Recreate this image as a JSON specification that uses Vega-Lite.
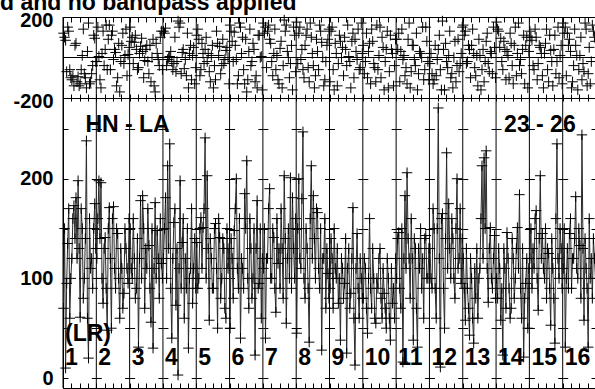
{
  "$schema": "https://vega.github.io/schema/vega-lite/v6.json",
  "autosize": {"type": "none"},
  "padding": {"left": 63, "top": 17, "right": 532, "bottom": 372},
  "background": "white",
  "bounds": "flush",
  "spacing": 0,
  "config": {
    "font": "Liberation Sans",
    "view": {"stroke": "black", "strokeWidth": 1},
    "axis": {"labelFont": "Liberation Sans", "labelFontSize": 20, "labelFontWeight": "bold", "labelColor": "black", "title": null, "domain": false, "grid": false}
  },
  "title": {"text": "d and no bandpass applied", "anchor": "start", "frame": "group", "dx": -63, "dy": 5, "offset": 0, "fontSize": 23, "fontWeight": "bold", "font": "Liberation Sans", "color": "black"},
  "datasets": {
    "segs": [
      {"lab": "1", "b": -0.5}, {"lab": "2", "b": 31.5}, {"lab": "3", "b": 63.5}, {"lab": "4", "b": 95.5},
      {"lab": "5", "b": 127.5}, {"lab": "6", "b": 159.5}, {"lab": "7", "b": 191.5}, {"lab": "8", "b": 223.5},
      {"lab": "9", "b": 255.5}, {"lab": "10", "b": 287.5}, {"lab": "11", "b": 319.5}, {"lab": "12", "b": 351.5},
      {"lab": "13", "b": 383.5}, {"lab": "14", "b": 415.5}, {"lab": "15", "b": 447.5}, {"lab": "16", "b": 479.5}
    ],
    "vis": [
      {"ch":0,"amp":70,"ph":120},{"ch":1,"amp":150,"ph":100},{"ch":2,"amp":10,"ph":85},{"ch":3,"amp":95,"ph":-70},{"ch":4,"amp":135,"ph":150},{"ch":5,"amp":170,"ph":130},{"ch":6,"amp":60,"ph":-60},{"ch":7,"amp":100,"ph":-100},{"ch":8,"amp":120,"ph":-110},{"ch":9,"amp":160,"ph":-90},{"ch":10,"amp":173,"ph":-140},{"ch":11,"amp":140,"ph":60},{"ch":12,"amp":181,"ph":70},{"ch":13,"amp":120,"ph":-120},{"ch":14,"amp":198,"ph":-95},{"ch":15,"amp":130,"ph":-140},{"ch":16,"amp":61,"ph":-130},{"ch":17,"amp":170,"ph":-60},{"ch":18,"amp":150,"ph":10},{"ch":19,"amp":80,"ph":140},{"ch":20,"amp":100,"ph":-80},{"ch":21,"amp":140,"ph":-100},{"ch":22,"amp":238,"ph":-150},{"ch":23,"amp":60,"ph":30},{"ch":24,"amp":20,"ph":170},{"ch":25,"amp":160,"ph":-130},{"ch":26,"amp":110,"ph":-120},{"ch":27,"amp":120,"ph":-80},{"ch":28,"amp":90,"ph":-40},{"ch":29,"amp":150,"ph":110},{"ch":30,"amp":175,"ph":95},{"ch":31,"amp":130,"ph":-20},
      {"ch":32,"amp":120,"ph":-20},{"ch":33,"amp":160,"ph":150},{"ch":34,"amp":198,"ph":5},{"ch":35,"amp":140,"ph":-110},{"ch":36,"amp":196,"ph":-150},{"ch":37,"amp":100,"ph":20},{"ch":38,"amp":75,"ph":130},{"ch":39,"amp":130,"ph":-40},{"ch":40,"amp":141,"ph":40},{"ch":41,"amp":90,"ph":160},{"ch":42,"amp":48,"ph":-60},{"ch":43,"amp":150,"ph":90},{"ch":44,"amp":171,"ph":160},{"ch":45,"amp":120,"ph":-60},{"ch":46,"amp":50,"ph":110},{"ch":47,"amp":160,"ph":130},{"ch":48,"amp":172,"ph":-10},{"ch":49,"amp":110,"ph":40},{"ch":50,"amp":90,"ph":25},{"ch":51,"amp":150,"ph":-140},{"ch":52,"amp":145,"ph":-100},{"ch":53,"amp":100,"ph":70},{"ch":54,"amp":60,"ph":-170},{"ch":55,"amp":130,"ph":-20},{"ch":56,"amp":110,"ph":60},{"ch":57,"amp":70,"ph":120},{"ch":58,"amp":85,"ph":-30},{"ch":59,"amp":150,"ph":10},{"ch":60,"amp":130,"ph":140},{"ch":61,"amp":110,"ph":-90},{"ch":62,"amp":95,"ph":15},{"ch":63,"amp":160,"ph":50},
      {"ch":64,"amp":150,"ph":150},{"ch":65,"amp":110,"ph":80},{"ch":66,"amp":100,"ph":100},{"ch":67,"amp":160,"ph":-30},{"ch":68,"amp":120,"ph":75},{"ch":69,"amp":80,"ph":110},{"ch":70,"amp":90,"ph":40},{"ch":71,"amp":140,"ph":-60},{"ch":72,"amp":31,"ph":-50},{"ch":73,"amp":120,"ph":20},{"ch":74,"amp":178,"ph":55},{"ch":75,"amp":100,"ph":95},{"ch":76,"amp":183,"ph":30},{"ch":77,"amp":150,"ph":-100},{"ch":78,"amp":70,"ph":-15},{"ch":79,"amp":130,"ph":40},{"ch":80,"amp":110,"ph":60},{"ch":81,"amp":170,"ph":-20},{"ch":82,"amp":133,"ph":-80},{"ch":83,"amp":90,"ph":60},{"ch":84,"amp":56,"ph":-120},{"ch":85,"amp":150,"ph":0},{"ch":86,"amp":30,"ph":90},{"ch":87,"amp":110,"ph":-140},{"ch":88,"amp":176,"ph":-170},{"ch":89,"amp":100,"ph":70},{"ch":90,"amp":148,"ph":20},{"ch":91,"amp":120,"ph":-10},{"ch":92,"amp":80,"ph":-40},{"ch":93,"amp":160,"ph":100},{"ch":94,"amp":115,"ph":130},{"ch":95,"amp":100,"ph":-60},
      {"ch":96,"amp":120,"ph":130},{"ch":97,"amp":150,"ph":120},{"ch":98,"amp":181,"ph":145},{"ch":99,"amp":100,"ph":-40},{"ch":100,"amp":213,"ph":-10},{"ch":101,"amp":130,"ph":0},{"ch":102,"amp":235,"ph":5},{"ch":103,"amp":90,"ph":30},{"ch":104,"amp":40,"ph":-20},{"ch":105,"amp":120,"ph":-60},{"ch":106,"amp":156,"ph":-30},{"ch":107,"amp":170,"ph":100},{"ch":108,"amp":73,"ph":-70},{"ch":109,"amp":130,"ph":-20},{"ch":110,"amp":3,"ph":180},{"ch":111,"amp":110,"ph":150},{"ch":112,"amp":198,"ph":170},{"ch":113,"amp":90,"ph":-80},{"ch":114,"amp":136,"ph":25},{"ch":115,"amp":160,"ph":40},{"ch":116,"amp":60,"ph":-55},{"ch":117,"amp":120,"ph":-10},{"ch":118,"amp":90,"ph":-90},{"ch":119,"amp":150,"ph":120},{"ch":120,"amp":30,"ph":-150},{"ch":121,"amp":100,"ph":20},{"ch":122,"amp":110,"ph":60},{"ch":123,"amp":170,"ph":-110},{"ch":124,"amp":75,"ph":10},{"ch":125,"amp":110,"ph":50},{"ch":126,"amp":140,"ph":-130},{"ch":127,"amp":90,"ph":-50},
      {"ch":128,"amp":136,"ph":110},{"ch":129,"amp":90,"ph":140},{"ch":130,"amp":100,"ph":90},{"ch":131,"amp":150,"ph":-90},{"ch":132,"amp":161,"ph":-60},{"ch":133,"amp":110,"ph":70},{"ch":134,"amp":151,"ph":20},{"ch":135,"amp":170,"ph":-30},{"ch":136,"amp":241,"ph":40},{"ch":137,"amp":100,"ph":100},{"ch":138,"amp":203,"ph":-20},{"ch":139,"amp":130,"ph":20},{"ch":140,"amp":58,"ph":-70},{"ch":141,"amp":140,"ph":-120},{"ch":142,"amp":120,"ph":10},{"ch":143,"amp":90,"ph":60},{"ch":144,"amp":90,"ph":-150},{"ch":145,"amp":150,"ph":-40},{"ch":146,"amp":155,"ph":-110},{"ch":147,"amp":110,"ph":130},{"ch":148,"amp":50,"ph":70},{"ch":149,"amp":160,"ph":10},{"ch":150,"amp":141,"ph":55},{"ch":151,"amp":80,"ph":-80},{"ch":152,"amp":100,"ph":-40},{"ch":153,"amp":140,"ph":90},{"ch":154,"amp":130,"ph":-30},{"ch":155,"amp":70,"ph":-10},{"ch":156,"amp":60,"ph":35},{"ch":157,"amp":150,"ph":50},{"ch":158,"amp":110,"ph":0},{"ch":159,"amp":130,"ph":-130},
      {"ch":160,"amp":50,"ph":160},{"ch":161,"amp":140,"ph":130},{"ch":162,"amp":120,"ph":80},{"ch":163,"amp":80,"ph":-20},{"ch":164,"amp":148,"ph":125},{"ch":165,"amp":170,"ph":60},{"ch":166,"amp":200,"ph":-10},{"ch":167,"amp":110,"ph":-130},{"ch":168,"amp":90,"ph":-90},{"ch":169,"amp":160,"ph":170},{"ch":170,"amp":40,"ph":150},{"ch":171,"amp":120,"ph":20},{"ch":172,"amp":110,"ph":100},{"ch":173,"amp":90,"ph":-60},{"ch":174,"amp":185,"ph":-130},{"ch":175,"amp":150,"ph":90},{"ch":176,"amp":218,"ph":-170},{"ch":177,"amp":100,"ph":-110},{"ch":178,"amp":70,"ph":30},{"ch":179,"amp":160,"ph":140},{"ch":180,"amp":130,"ph":-40},{"ch":181,"amp":80,"ph":-20},{"ch":182,"amp":100,"ph":70},{"ch":183,"amp":150,"ph":40},{"ch":184,"amp":23,"ph":-120},{"ch":185,"amp":130,"ph":-90},{"ch":186,"amp":178,"ph":-150},{"ch":187,"amp":90,"ph":110},{"ch":188,"amp":95,"ph":110},{"ch":189,"amp":150,"ph":0},{"ch":190,"amp":60,"ph":5},{"ch":191,"amp":120,"ph":-160},
      {"ch":192,"amp":110,"ph":170},{"ch":193,"amp":150,"ph":120},{"ch":194,"amp":40,"ph":150},{"ch":195,"amp":120,"ph":-50},{"ch":196,"amp":120,"ph":130},{"ch":197,"amp":170,"ph":160},{"ch":198,"amp":190,"ph":90},{"ch":199,"amp":100,"ph":70},{"ch":200,"amp":100,"ph":-20},{"ch":201,"amp":150,"ph":-90},{"ch":202,"amp":141,"ph":20},{"ch":203,"amp":90,"ph":140},{"ch":204,"amp":66,"ph":-60},{"ch":205,"amp":160,"ph":10},{"ch":206,"amp":115,"ph":-110},{"ch":207,"amp":130,"ph":-130},{"ch":208,"amp":90,"ph":45},{"ch":209,"amp":170,"ph":80},{"ch":210,"amp":130,"ph":-150},{"ch":211,"amp":80,"ph":-40},{"ch":212,"amp":203,"ph":185},{"ch":213,"amp":140,"ph":130},{"ch":214,"amp":55,"ph":160},{"ch":215,"amp":120,"ph":30},{"ch":216,"amp":150,"ph":0},{"ch":217,"amp":100,"ph":-100},{"ch":218,"amp":201,"ph":-30},{"ch":219,"amp":90,"ph":60},{"ch":220,"amp":181,"ph":-160},{"ch":221,"amp":130,"ph":150},{"ch":222,"amp":100,"ph":110},{"ch":223,"amp":160,"ph":-70},
      {"ch":224,"amp":45,"ph":175},{"ch":225,"amp":150,"ph":-30},{"ch":226,"amp":200,"ph":120},{"ch":227,"amp":120,"ph":150},{"ch":228,"amp":110,"ph":-10},{"ch":229,"amp":180,"ph":40},{"ch":230,"amp":247,"ph":-60},{"ch":231,"amp":100,"ph":-100},{"ch":232,"amp":80,"ph":60},{"ch":233,"amp":150,"ph":110},{"ch":234,"amp":130,"ph":140},{"ch":235,"amp":90,"ph":-50},{"ch":236,"amp":36,"ph":-120},{"ch":237,"amp":160,"ph":170},{"ch":238,"amp":213,"ph":100},{"ch":239,"amp":120,"ph":20},{"ch":240,"amp":183,"ph":-40},{"ch":241,"amp":140,"ph":-150},{"ch":242,"amp":100,"ph":-90},{"ch":243,"amp":170,"ph":90},{"ch":244,"amp":166,"ph":30},{"ch":245,"amp":110,"ph":-60},{"ch":246,"amp":90,"ph":160},{"ch":247,"amp":150,"ph":130},{"ch":248,"amp":28,"ph":75},{"ch":249,"amp":120,"ph":0},{"ch":250,"amp":120,"ph":-140},{"ch":251,"amp":160,"ph":-110},{"ch":252,"amp":70,"ph":-20},{"ch":253,"amp":130,"ph":60},{"ch":254,"amp":105,"ph":90},{"ch":255,"amp":80,"ph":140},
      {"ch":256,"amp":90,"ph":-120},{"ch":257,"amp":140,"ph":130},{"ch":258,"amp":120,"ph":150},{"ch":259,"amp":70,"ph":-60},{"ch":260,"amp":150,"ph":-160},{"ch":261,"amp":110,"ph":70},{"ch":262,"amp":100,"ph":20},{"ch":263,"amp":130,"ph":-140},{"ch":264,"amp":75,"ph":-30},{"ch":265,"amp":100,"ph":110},{"ch":266,"amp":38,"ph":80},{"ch":267,"amp":120,"ph":0},{"ch":268,"amp":110,"ph":50},{"ch":269,"amp":80,"ph":-90},{"ch":270,"amp":95,"ph":100},{"ch":271,"amp":140,"ph":40},{"ch":272,"amp":25,"ph":-40},{"ch":273,"amp":110,"ph":160},{"ch":274,"amp":130,"ph":5},{"ch":275,"amp":70,"ph":-20},{"ch":276,"amp":85,"ph":-150},{"ch":277,"amp":120,"ph":80},{"ch":278,"amp":171,"ph":120},{"ch":279,"amp":60,"ph":-100},{"ch":280,"amp":13,"ph":90},{"ch":281,"amp":110,"ph":30},{"ch":282,"amp":145,"ph":-10},{"ch":283,"amp":90,"ph":140},{"ch":284,"amp":60,"ph":-60},{"ch":285,"amp":120,"ph":-50},{"ch":286,"amp":100,"ph":170},{"ch":287,"amp":80,"ph":20},
      {"ch":288,"amp":80,"ph":60},{"ch":289,"amp":120,"ph":-80},{"ch":290,"amp":110,"ph":-20},{"ch":291,"amp":70,"ph":120},{"ch":292,"amp":45,"ph":-100},{"ch":293,"amp":100,"ph":30},{"ch":294,"amp":160,"ph":70},{"ch":295,"amp":90,"ph":-130},{"ch":296,"amp":70,"ph":140},{"ch":297,"amp":130,"ph":80},{"ch":298,"amp":100,"ph":-30},{"ch":299,"amp":60,"ph":-50},{"ch":300,"amp":55,"ph":-120},{"ch":301,"amp":100,"ph":160},{"ch":302,"amp":90,"ph":-60},{"ch":303,"amp":120,"ph":10},{"ch":304,"amp":130,"ph":150},{"ch":305,"amp":80,"ph":-100},{"ch":306,"amp":60,"ph":100},{"ch":307,"amp":110,"ph":50},{"ch":308,"amp":85,"ph":-160},{"ch":309,"amp":70,"ph":-20},{"ch":310,"amp":50,"ph":40},{"ch":311,"amp":120,"ph":130},{"ch":312,"amp":100,"ph":-150},{"ch":313,"amp":60,"ph":-70},{"ch":314,"amp":38,"ph":110},{"ch":315,"amp":110,"ph":40},{"ch":316,"amp":75,"ph":20},{"ch":317,"amp":90,"ph":-140},{"ch":318,"amp":60,"ph":-40},{"ch":319,"amp":120,"ph":90},
      {"ch":320,"amp":100,"ph":90},{"ch":321,"amp":140,"ph":40},{"ch":322,"amp":146,"ph":120},{"ch":323,"amp":90,"ph":-120},{"ch":324,"amp":70,"ph":30},{"ch":325,"amp":150,"ph":140},{"ch":326,"amp":16,"ph":-10},{"ch":327,"amp":120,"ph":10},{"ch":328,"amp":183,"ph":-90},{"ch":329,"amp":110,"ph":-50},{"ch":330,"amp":206,"ph":-130},{"ch":331,"amp":140,"ph":90},{"ch":332,"amp":120,"ph":170},{"ch":333,"amp":80,"ph":-150},{"ch":334,"amp":160,"ph":-70},{"ch":335,"amp":120,"ph":60},{"ch":336,"amp":38,"ph":60},{"ch":337,"amp":140,"ph":-10},{"ch":338,"amp":130,"ph":-40},{"ch":339,"amp":70,"ph":120},{"ch":340,"amp":31,"ph":-160},{"ch":341,"amp":130,"ph":-80},{"ch":342,"amp":110,"ph":30},{"ch":343,"amp":150,"ph":20},{"ch":344,"amp":90,"ph":0},{"ch":345,"amp":120,"ph":150},{"ch":346,"amp":60,"ph":-110},{"ch":347,"amp":140,"ph":-60},{"ch":348,"amp":143,"ph":150},{"ch":349,"amp":100,"ph":80},{"ch":350,"amp":100,"ph":-20},{"ch":351,"amp":130,"ph":-110},
      {"ch":352,"amp":130,"ph":-30},{"ch":353,"amp":100,"ph":20},{"ch":354,"amp":90,"ph":-80},{"ch":355,"amp":170,"ph":-130},{"ch":356,"amp":150,"ph":-110},{"ch":357,"amp":90,"ph":60},{"ch":358,"amp":60,"ph":-90},{"ch":359,"amp":150,"ph":-10},{"ch":360,"amp":271,"ph":40},{"ch":361,"amp":120,"ph":110},{"ch":362,"amp":11,"ph":-60},{"ch":363,"amp":160,"ph":-160},{"ch":364,"amp":165,"ph":180},{"ch":365,"amp":90,"ph":40},{"ch":366,"amp":50,"ph":-160},{"ch":367,"amp":140,"ph":70},{"ch":368,"amp":226,"ph":-20},{"ch":369,"amp":110,"ph":-50},{"ch":370,"amp":175,"ph":10},{"ch":371,"amp":130,"ph":130},{"ch":372,"amp":100,"ph":-100},{"ch":373,"amp":160,"ph":-80},{"ch":374,"amp":140,"ph":-150},{"ch":375,"amp":100,"ph":0},{"ch":376,"amp":80,"ph":80},{"ch":377,"amp":150,"ph":-120},{"ch":378,"amp":200,"ph":-40},{"ch":379,"amp":110,"ph":90},{"ch":380,"amp":120,"ph":-70},{"ch":381,"amp":170,"ph":-30},{"ch":382,"amp":95,"ph":20},{"ch":383,"amp":140,"ph":150},
      {"ch":384,"amp":120,"ph":160},{"ch":385,"amp":90,"ph":110},{"ch":386,"amp":58,"ph":130},{"ch":387,"amp":130,"ph":-30},{"ch":388,"amp":90,"ph":-20},{"ch":389,"amp":70,"ph":60},{"ch":390,"amp":43,"ph":40},{"ch":391,"amp":120,"ph":-100},{"ch":392,"amp":100,"ph":60},{"ch":393,"amp":60,"ph":140},{"ch":394,"amp":35,"ph":20},{"ch":395,"amp":110,"ph":-50},{"ch":396,"amp":80,"ph":-90},{"ch":397,"amp":130,"ph":10},{"ch":398,"amp":60,"ph":-140},{"ch":399,"amp":100,"ph":90},{"ch":400,"amp":110,"ph":10},{"ch":401,"amp":160,"ph":-160},{"ch":402,"amp":213,"ph":-60},{"ch":403,"amp":120,"ph":40},{"ch":404,"amp":221,"ph":-120},{"ch":405,"amp":150,"ph":-20},{"ch":406,"amp":228,"ph":80},{"ch":407,"amp":110,"ph":120},{"ch":408,"amp":76,"ph":-30},{"ch":409,"amp":130,"ph":-70},{"ch":410,"amp":151,"ph":30},{"ch":411,"amp":100,"ph":20},{"ch":412,"amp":90,"ph":-80},{"ch":413,"amp":120,"ph":150},{"ch":414,"amp":143,"ph":50},{"ch":415,"amp":80,"ph":-100},
      {"ch":416,"amp":100,"ph":175},{"ch":417,"amp":80,"ph":140},{"ch":418,"amp":130,"ph":130},{"ch":419,"amp":110,"ph":50},{"ch":420,"amp":58,"ph":95},{"ch":421,"amp":90,"ph":-20},{"ch":422,"amp":23,"ph":-60},{"ch":423,"amp":130,"ph":80},{"ch":424,"amp":110,"ph":40},{"ch":425,"amp":70,"ph":-110},{"ch":426,"amp":146,"ph":30},{"ch":427,"amp":120,"ph":10},{"ch":428,"amp":90,"ph":-100},{"ch":429,"amp":60,"ph":120},{"ch":430,"amp":70,"ph":70},{"ch":431,"amp":140,"ph":-40},{"ch":432,"amp":120,"ph":-130},{"ch":433,"amp":80,"ph":60},{"ch":434,"amp":100,"ph":150},{"ch":435,"amp":130,"ph":-90},{"ch":436,"amp":151,"ph":20},{"ch":437,"amp":110,"ph":170},{"ch":438,"amp":184,"ph":-40},{"ch":439,"amp":90,"ph":-10},{"ch":440,"amp":60,"ph":-80},{"ch":441,"amp":130,"ph":40},{"ch":442,"amp":21,"ph":110},{"ch":443,"amp":80,"ph":-130},{"ch":444,"amp":95,"ph":60},{"ch":445,"amp":120,"ph":100},{"ch":446,"amp":50,"ph":-150},{"ch":447,"amp":110,"ph":30},
      {"ch":448,"amp":120,"ph":130},{"ch":449,"amp":150,"ph":100},{"ch":450,"amp":90,"ph":85},{"ch":451,"amp":130,"ph":-40},{"ch":452,"amp":110,"ph":-60},{"ch":453,"amp":160,"ph":140},{"ch":454,"amp":168,"ph":100},{"ch":455,"amp":100,"ph":-110},{"ch":456,"amp":68,"ph":-30},{"ch":457,"amp":140,"ph":60},{"ch":458,"amp":203,"ph":50},{"ch":459,"amp":120,"ph":20},{"ch":460,"amp":145,"ph":-90},{"ch":461,"amp":110,"ph":-150},{"ch":462,"amp":100,"ph":20},{"ch":463,"amp":150,"ph":70},{"ch":464,"amp":80,"ph":140},{"ch":465,"amp":130,"ph":-60},{"ch":466,"amp":125,"ph":-120},{"ch":467,"amp":90,"ph":110},{"ch":468,"amp":53,"ph":35},{"ch":469,"amp":140,"ph":-20},{"ch":470,"amp":110,"ph":-140},{"ch":471,"amp":80,"ph":40},{"ch":472,"amp":35,"ph":110},{"ch":473,"amp":160,"ph":-80},{"ch":474,"amp":235,"ph":-20},{"ch":475,"amp":120,"ph":150},{"ch":476,"amp":100,"ph":-100},{"ch":477,"amp":150,"ph":10},{"ch":478,"amp":130,"ph":60},{"ch":479,"amp":90,"ph":-130},
      {"ch":480,"amp":110,"ph":170},{"ch":481,"amp":150,"ph":120},{"ch":482,"amp":31,"ph":150},{"ch":483,"amp":100,"ph":-90},{"ch":484,"amp":130,"ph":120},{"ch":485,"amp":90,"ph":60},{"ch":486,"amp":145,"ph":90},{"ch":487,"amp":160,"ph":30},{"ch":488,"amp":90,"ph":-150},{"ch":489,"amp":120,"ph":-120},{"ch":490,"amp":120,"ph":-40},{"ch":491,"amp":140,"ph":140},{"ch":492,"amp":182,"ph":60},{"ch":493,"amp":110,"ph":10},{"ch":494,"amp":100,"ph":-160},{"ch":495,"amp":150,"ph":-60},{"ch":496,"amp":133,"ph":10},{"ch":497,"amp":80,"ph":100},{"ch":498,"amp":244,"ph":-110},{"ch":499,"amp":130,"ph":-30},{"ch":500,"amp":58,"ph":-70},{"ch":501,"amp":140,"ph":170},{"ch":502,"amp":110,"ph":140},{"ch":503,"amp":90,"ph":-140},{"ch":504,"amp":31,"ph":-80},{"ch":505,"amp":160,"ph":50},{"ch":506,"amp":100,"ph":-130},{"ch":507,"amp":120,"ph":-20},{"ch":508,"amp":80,"ph":160},{"ch":509,"amp":140,"ph":130},{"ch":510,"amp":120,"ph":100},{"ch":511,"amp":100,"ph":80}
    ]
  },
  "vconcat": [
    {
      "width": 533,
      "height": 81,
      "resolve": {"axis": {"x": "independent", "y": "independent"}},
      "layer": [
        {
          "data": {"name": "segs"},
          "mark": {"type": "rule", "color": "black", "strokeWidth": 1},
          "encoding": {
            "x": {"field": "b", "type": "quantitative", "scale": {"domain": [-0.5, 511.5], "nice": false, "zero": false},
                  "axis": {"orient": "bottom", "labels": false, "ticks": true, "tickSize": -4, "tickColor": "black", "tickWidth": 1,
                           "values": [-0.5,7.5,15.5,23.5,31.5,39.5,47.5,55.5,63.5,71.5,79.5,87.5,95.5,103.5,111.5,119.5,127.5,135.5,143.5,151.5,159.5,167.5,175.5,183.5,191.5,199.5,207.5,215.5,223.5,231.5,239.5,247.5,255.5,263.5,271.5,279.5,287.5,295.5,303.5,311.5,319.5,327.5,335.5,343.5,351.5,359.5,367.5,375.5,383.5,391.5,399.5,407.5,415.5,423.5,431.5,439.5,447.5,455.5,463.5,471.5,479.5,487.5,495.5,503.5,511.5]}}
          }
        },
        {
          "data": {"values": [{}]},
          "mark": {"type": "rule", "color": "black", "strokeWidth": 1},
          "encoding": {"y": {"datum": 0, "type": "quantitative", "scale": {"domain": [-200, 200], "nice": false}, "axis": null}}
        },
        {
          "data": {"name": "vis"},
          "mark": {"type": "point", "shape": "M-1,0H1M0,-1V1", "size": 110, "filled": false, "stroke": "black", "strokeWidth": 1, "opacity": 1},
          "encoding": {
            "x": {"field": "ch", "type": "quantitative", "scale": {"domain": [-0.5, 511.5], "nice": false, "zero": false},
                  "axis": {"orient": "top", "labels": false, "ticks": true, "tickSize": -5, "tickColor": "black", "tickWidth": 1,
                           "values": [-0.5,7.5,15.5,23.5,31.5,39.5,47.5,55.5,63.5,71.5,79.5,87.5,95.5,103.5,111.5,119.5,127.5,135.5,143.5,151.5,159.5,167.5,175.5,183.5,191.5,199.5,207.5,215.5,223.5,231.5,239.5,247.5,255.5,263.5,271.5,279.5,287.5,295.5,303.5,311.5,319.5,327.5,335.5,343.5,351.5,359.5,367.5,375.5,383.5,391.5,399.5,407.5,415.5,423.5,431.5,439.5,447.5,455.5,463.5,471.5,479.5,487.5,495.5,503.5,511.5]}},
            "y": {"field": "ph", "type": "quantitative", "scale": {"domain": [-200, 200], "nice": false},
                  "axis": {"orient": "left", "values": [-200, 200], "ticks": false, "labelPadding": 10, "labelOffset": 3, "labelExpr": "'' + datum.value"}}
          }
        }
      ]
    },
    {
      "width": 533,
      "height": 290,
      "resolve": {"axis": {"x": "independent", "y": "independent"}},
      "layer": [
        {
          "data": {"name": "segs"},
          "mark": {"type": "rule", "color": "black", "strokeWidth": 1},
          "encoding": {
            "x": {"field": "b", "type": "quantitative", "scale": {"domain": [-0.5, 511.5], "nice": false, "zero": false},
                  "axis": {"orient": "bottom", "labels": false, "ticks": true, "tickSize": -5, "tickColor": "black", "tickWidth": 1,
                           "values": [-0.5,7.5,15.5,23.5,31.5,39.5,47.5,55.5,63.5,71.5,79.5,87.5,95.5,103.5,111.5,119.5,127.5,135.5,143.5,151.5,159.5,167.5,175.5,183.5,191.5,199.5,207.5,215.5,223.5,231.5,239.5,247.5,255.5,263.5,271.5,279.5,287.5,295.5,303.5,311.5,319.5,327.5,335.5,343.5,351.5,359.5,367.5,375.5,383.5,391.5,399.5,407.5,415.5,423.5,431.5,439.5,447.5,455.5,463.5,471.5,479.5,487.5,495.5,503.5,511.5]}}
          }
        },
        {
          "data": {"name": "vis"},
          "mark": {"type": "line", "color": "#2a2a2a", "strokeWidth": 1},
          "encoding": {
            "x": {"field": "ch", "type": "quantitative", "scale": {"domain": [-0.5, 511.5], "nice": false, "zero": false}, "axis": null},
            "y": {"field": "amp", "type": "quantitative", "scale": {"domain": [-10, 281], "nice": false, "zero": false},
                  "axis": {"orient": "left", "values": [0, 100, 200], "ticks": false, "labelPadding": 10}}
          }
        },
        {
          "data": {"name": "vis"},
          "mark": {"type": "point", "shape": "M-1,0H1M0,-1V1", "size": 110, "filled": false, "stroke": "black", "strokeWidth": 1, "opacity": 1},
          "encoding": {
            "x": {"field": "ch", "type": "quantitative", "scale": {"domain": [-0.5, 511.5], "nice": false, "zero": false},
                  "axis": {"orient": "top", "labels": false, "ticks": true, "tickSize": -3, "tickColor": "black", "tickWidth": 1,
                           "values": [-0.5,7.5,15.5,23.5,31.5,39.5,47.5,55.5,63.5,71.5,79.5,87.5,95.5,103.5,111.5,119.5,127.5,135.5,143.5,151.5,159.5,167.5,175.5,183.5,191.5,199.5,207.5,215.5,223.5,231.5,239.5,247.5,255.5,263.5,271.5,279.5,287.5,295.5,303.5,311.5,319.5,327.5,335.5,343.5,351.5,359.5,367.5,375.5,383.5,391.5,399.5,407.5,415.5,423.5,431.5,439.5,447.5,455.5,463.5,471.5,479.5,487.5,495.5,503.5,511.5]}},
            "y": {"field": "amp", "type": "quantitative", "scale": {"domain": [-10, 281], "nice": false, "zero": false},
                  "axis": {"orient": "right", "values": [0, 50, 100, 150, 200, 250], "labels": false, "ticks": false, "grid": true, "gridColor": "black", "gridWidth": 1, "gridOpacity": 1, "gridDash": [5, 23.3125, 5, 0]}}
          }
        },
        {
          "data": {"name": "segs"},
          "mark": {"type": "text", "align": "left", "baseline": "alphabetic", "dx": 2, "fontSize": 23, "fontWeight": "bold", "font": "Liberation Sans", "color": "black"},
          "encoding": {
            "x": {"field": "b", "type": "quantitative", "scale": {"domain": [-0.5, 511.5], "nice": false, "zero": false}, "axis": null},
            "y": {"datum": 13, "type": "quantitative", "axis": null},
            "text": {"field": "lab"}
          }
        },
        {
          "data": {"values": [{}]},
          "mark": {"type": "text", "text": "(LR)", "align": "left", "baseline": "alphabetic", "dx": 2, "fontSize": 23, "fontWeight": "bold", "font": "Liberation Sans", "color": "black"},
          "encoding": {"x": {"datum": -0.5, "type": "quantitative", "axis": null}, "y": {"datum": 37, "type": "quantitative", "axis": null}}
        },
        {
          "data": {"values": [{}]},
          "mark": {"type": "text", "text": "HN - LA", "align": "left", "baseline": "alphabetic", "fontSize": 23, "fontWeight": "bold", "font": "Liberation Sans", "color": "black"},
          "encoding": {"x": {"datum": 21, "type": "quantitative", "axis": null}, "y": {"datum": 247, "type": "quantitative", "axis": null}}
        },
        {
          "data": {"values": [{}]},
          "mark": {"type": "text", "text": "23 - 26", "align": "right", "baseline": "alphabetic", "fontSize": 23, "fontWeight": "bold", "font": "Liberation Sans", "color": "black"},
          "encoding": {"x": {"datum": 492, "type": "quantitative", "axis": null}, "y": {"datum": 247, "type": "quantitative", "axis": null}}
        }
      ]
    }
  ]
}
